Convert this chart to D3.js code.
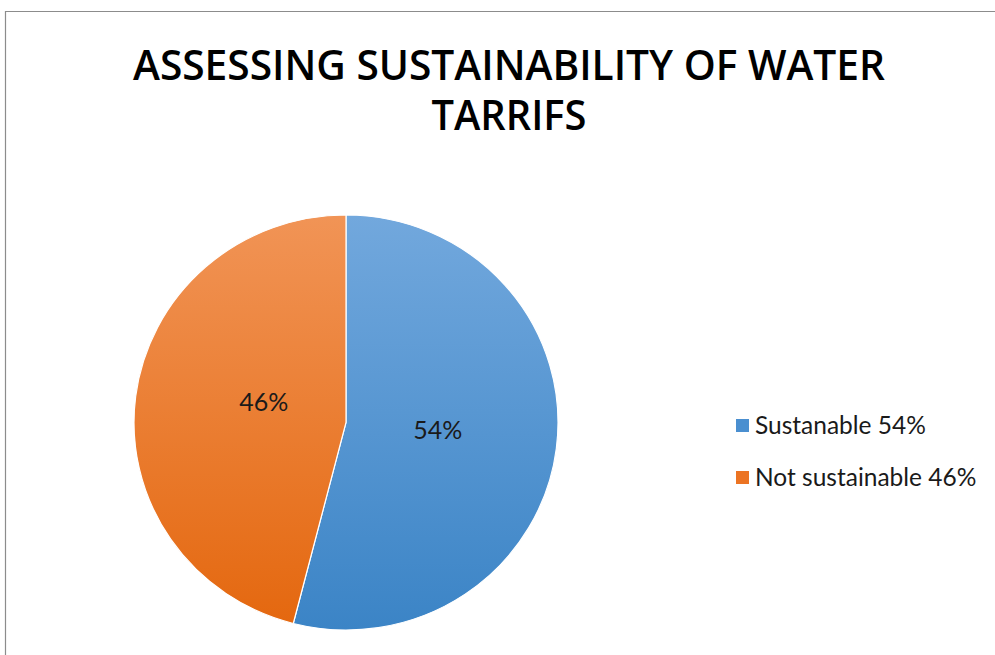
<!DOCTYPE html>
<html><head><meta charset="utf-8">
<script src="https://cdn.jsdelivr.net/npm/d3@7"></script>
<style>html,body{margin:0;padding:0;background:#fff;}svg{display:block;}</style>
</head><body>
<script>
const categories = ["Sustanable", "Not sustainable"];
const values = [54, 46];
const legendLabels = ["Sustanable 54%", "Not sustainable 46%"];
const titleLines = ["ASSESSING SUSTAINABILITY OF WATER", "TARRIFS"];

const W = 995, H = 655;
const svg = d3.select("body").append("svg").attr("width", W).attr("height", H);

// frame
svg.append("path").attr("d", `M5.5,${H}V11.5H${W}`).attr("fill","none").attr("stroke","#8c8c8c").attr("stroke-width",1.2);

const defs = svg.append("defs");
const grads = [["#72a8dd","#3b84c6"],["#f19456","#e4670e"]];
const cx = 346, cy = 422.5, r = 212, sy = 207.5/212;
grads.forEach((g,i)=>{
  const lg = defs.append("linearGradient").attr("id","g"+i)
    .attr("gradientUnits","userSpaceOnUse").attr("x1",0).attr("y1",-r).attr("x2",0).attr("y2",r);
  lg.append("stop").attr("offset","0%").attr("stop-color",g[0]);
  lg.append("stop").attr("offset","100%").attr("stop-color",g[1]);
});

// title (one text element, two lines)
const tf = "'Open Sans',Arial,sans-serif";
const tLens = [752, 155];
const tY = [80, 130];
const title = svg.append("text").attr("text-anchor","middle")
  .attr("font-family", tf).attr("font-weight",600).attr("font-size",42).attr("fill","#000");
titleLines.forEach((t,i)=>{
  title.append("tspan").attr("x", 509).attr("y", tY[i])
    .attr("textLength", tLens[i]).attr("lengthAdjust","spacingAndGlyphs").text(t);
});

const pie = d3.pie().sort(null).value(d=>d)(values);
const arc = d3.arc().innerRadius(0).outerRadius(r);
const g = svg.append("g").attr("transform",`translate(${cx},${cy}) scale(1,${sy})`);
g.selectAll("path").data(pie).join("path")
  .attr("d", arc)
  .attr("fill",(d,i)=>`url(#g${i})`)
  .attr("stroke","#fff").attr("stroke-width",1.2);

// label placement (Excel best-fit approximation)
const labRad = [0.435, 0.40], labShift = [-2.2, 7.2];
const lf = "Lato,'Open Sans',sans-serif";
const gl = svg.append("g").attr("transform",`translate(${cx},${cy})`);
gl.selectAll("text.lbl").data(pie).join("text").attr("class","lbl")
  .attr("transform", (d,i)=>{
    const a = (d.startAngle+d.endAngle)/2 + labShift[i]*Math.PI/180;
    const rr = r*labRad[i];
    return `translate(${rr*Math.sin(a)},${-rr*Math.cos(a)*sy+9})`;})
  .attr("text-anchor","middle").attr("font-family",lf).attr("font-size",25)
  .attr("fill","#1a1a1a").text(d=>d.data+"%");

// legend
const colors = ["#4a8fd0","#ec7423"];
const lg = svg.append("g");
legendLabels.forEach((t,i)=>{
  const y = 419 + i*52;
  lg.append("rect").attr("x",736).attr("y",y).attr("width",13).attr("height",13).attr("fill",colors[i]);
  lg.append("text").attr("x",755).attr("y",y+14.5).attr("font-family",lf).attr("font-size",24.5)
    .attr("fill","#1a1a1a").text(t);
});
</script>
</body></html>
